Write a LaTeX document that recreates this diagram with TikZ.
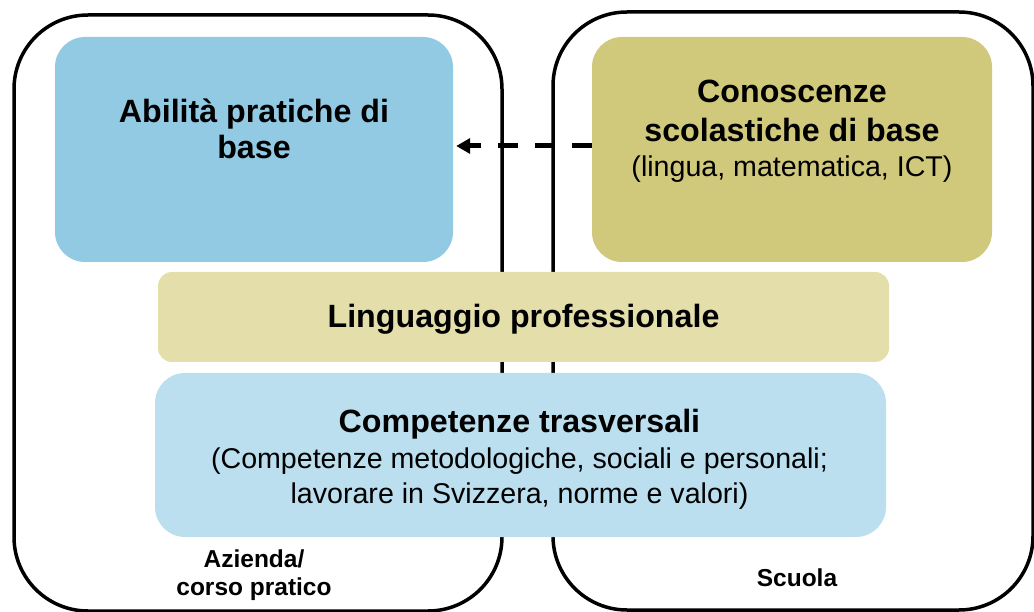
\documentclass[tikz,border=0pt]{standalone}
\usepackage{fontspec}
\setmainfont{Liberation Sans}
\usepackage{tikz}
\usetikzlibrary{arrows.meta}
\definecolor{abilblue}{RGB}{147,202,227}
\definecolor{conoolive}{RGB}{208,200,122}
\definecolor{lingtan}{RGB}{228,222,170}
\definecolor{compblue}{RGB}{187,223,238}
\newcommand{\headbf}{\fontsize{32.2}{37}\selectfont\bfseries}
\newcommand{\subrm}{\fontsize{28.6}{35}\selectfont\mdseries}
\newcommand{\footbf}{\fontsize{24.5}{28}\selectfont\bfseries}

\begin{document}
\begin{tikzpicture}[x=1pt,y=-1pt,
    frame/.style={draw, line width=3.5pt, rounded corners=74pt, inner sep=0pt},
    area/.style={inner sep=0pt, rounded corners=30pt},
    boxtext/.style={align=center, inner sep=0pt}]
  \useasboundingbox (0,0) rectangle (1034,612);
  % the two places of learning
  \node[frame, minimum width=488pt, minimum height=596pt] (azienda) at (258,313) {};
  \node[frame, minimum width=480pt, minimum height=598pt] (scuola) at (793,311) {};
  % contents
  \node[area, fill=abilblue, minimum width=398pt, minimum height=225pt] (abil) at (254,149.5) {};
  \node[area, fill=conoolive, minimum width=400pt, minimum height=225pt] (cono) at (792,149.5) {};
  \node[area, fill=lingtan, rounded corners=14pt, minimum width=731pt, minimum height=90pt] (ling) at (523.5,317) {};
  \node[area, fill=compblue, minimum width=731pt, minimum height=164pt] (comp) at (520.5,455) {};
  \node[boxtext, font=\headbf] (abiltxt) at (254,129.3) {Abilità pratiche di\\[-1pt]base};
  \node[boxtext, font=\headbf] (conotxt) at (792,131) {Conoscenze\\[1.5pt]scolastiche di base\\[-2pt]{\subrm (lingua, matematica, ICT)}};
  \node[boxtext, font=\headbf, anchor=base] (lingtxt) at (523.5,328) {Linguaggio professionale};
  \node[boxtext, font=\headbf] (comptxt) at (519.5,459) {Competenze trasversali\\[-1pt]{\subrm (Competenze metodologiche, sociali e personali;}\\[-2pt]{\subrm lavorare in Svizzera, norme e valori)}};
  \node[boxtext, font=\footbf] (aziendatxt) at (254,575) {Azienda/\\corso pratico};
  \node[boxtext, font=\footbf, anchor=base] (scuolatxt) at (797,586) {Scuola};
  \draw[line width=5pt, dash pattern=on 20pt off 17pt, shorten >=3pt,
    -{Triangle[length=14pt,width=15pt]}] ([yshift=3.5pt]cono.west) -- ([yshift=3.5pt]abil.east);
\end{tikzpicture}
\end{document}
